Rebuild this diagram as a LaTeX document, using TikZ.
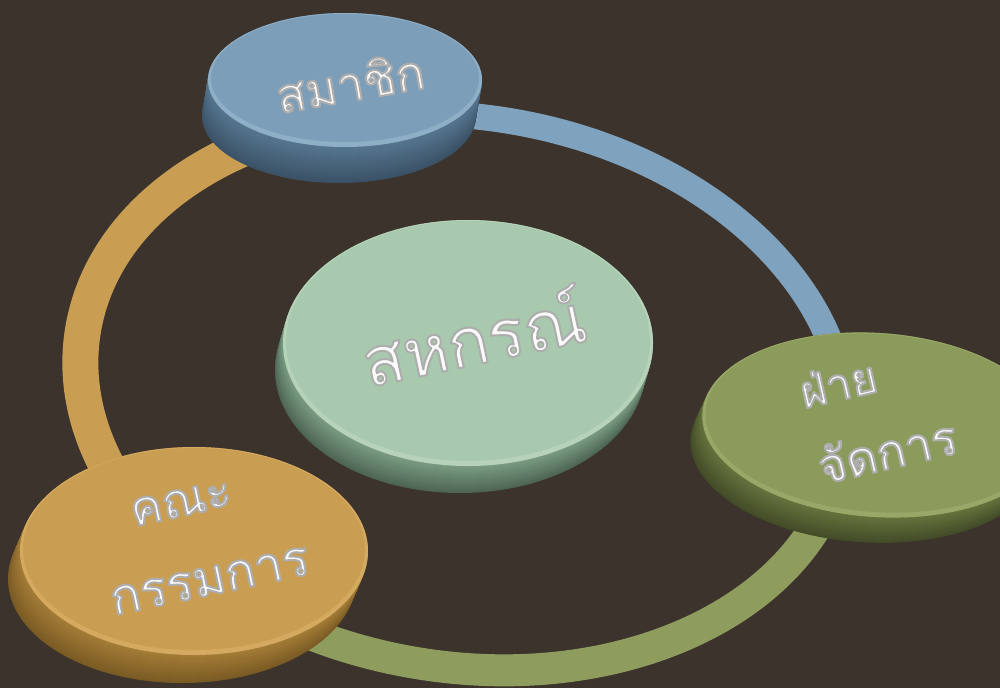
\documentclass[tikz,border=0pt]{standalone}
\usepackage{fontspec}
\newfontfamily\thaifont[Script=Thai]{Loma}
\definecolor{bg}{HTML}{3C342C}
\definecolor{ringO}{HTML}{C99E52}
\definecolor{ringB}{HTML}{7FA2BF}
\definecolor{ringG}{HTML}{8E9C5E}
\definecolor{btop}{HTML}{7D9EB8}\definecolor{bbevel}{HTML}{8FAFC6}\definecolor{bside}{HTML}{557690}\definecolor{bdark}{HTML}{3B5266}
\definecolor{mtop}{HTML}{A8C9AD}\definecolor{mbevel}{HTML}{B6D3BA}\definecolor{mside}{HTML}{7A9C82}\definecolor{mdark}{HTML}{4E6554}
\definecolor{otop}{HTML}{8B9B5C}\definecolor{obevel}{HTML}{99A868}\definecolor{oside}{HTML}{66733D}\definecolor{odark}{HTML}{434C28}
\definecolor{ytop}{HTML}{C99D52}\definecolor{ybevel}{HTML}{D4AA60}\definecolor{yside}{HTML}{A47C37}\definecolor{ydark}{HTML}{7A5B24}
\definecolor{txtw}{HTML}{FAFAFA}
\newcommand\emb[1]{\special{pdf:literal direct 2 Tr 2.0 w 1 j 0.68 0.68 0.68 RG}#1\special{pdf:literal direct 0 Tr}}
\newcommand\ringring[2]{\draw[line width=#1, #2] (0,0) ellipse[x radius=385, y radius=275];}
\newcommand\disc[9]{%
  \begin{scope}[shift={(#1,#2)}, rotate=#5]
    \foreach \j in {0,...,#6}{%
      \pgfmathsetmacro\kk{#6-\j}%
      \pgfmathtruncatemacro\pc{100*\kk/#6}%
      \fill[#8dark!\pc!#8side] ({#7*\kk/#6},\kk) ellipse[x radius=#3, y radius=#4];
    }
    \fill[#8bevel] (0,0) ellipse[x radius=#3, y radius=#4];
    \fill[#8top] (0,-2) ellipse[x radius=#3-3, y radius=#4-3];
    \coordinate (#9) at (0,0);
  \end{scope}}
\tikzset{lbl/.style={inner sep=0pt, text=txtw}}
\begin{document}
\begin{tikzpicture}[x=1pt,y=-1pt]
\useasboundingbox (0,0) rectangle (1000,688);
\fill[bg] (0,0) rectangle (1000,688);
\clip (0,0) rectangle (1000,688);
% ring
\coordinate (rc) at (463,392);
\begin{scope}
  \clip (rc) -- (-617,1044) -- (-2000,392) -- (-9,-856) -- cycle;
  \begin{scope}[shift={(rc)}, rotate=-9.1]\ringring{36pt}{ringO}\end{scope}
\end{scope}
\begin{scope}
  \clip (rc) -- (-9,-856) -- (2000,-2000) -- (2119,524) -- cycle;
  \begin{scope}[shift={(rc)}, rotate=-9.1]\ringring{26pt}{ringB}\end{scope}
\end{scope}
\begin{scope}
  \clip (rc) -- (2119,524) -- (2000,2000) -- (463,2000) -- (-617,1044) -- cycle;
  \begin{scope}[shift={(rc)}, rotate=-9.1]\ringring{32pt}{ringG}\end{scope}
\end{scope}
% discs
\disc{345}{80}{137}{67}{0}{36}{-6}{b}{member}
\disc{877}{425}{175}{92}{-4}{26}{-10}{o}{dept}
\disc{468}{343}{185}{123}{0}{27}{-8}{m}{coop}
\disc{194}{551}{174}{104}{0}{28}{-12}{y}{comm}
% labels
\node[lbl, rotate=10, font=\thaifont\fontsize{48}{54}\selectfont] (tmember) at (350,82) {\emb{สมาชิก}};
\node[lbl, rotate=12, font=\thaifont\fontsize{68}{74}\selectfont] (tcoop) at (473,335) {\emb{สหกรณ์}};
\node[lbl, rotate=13, font=\thaifont\fontsize{45}{50}\selectfont] (tdeptA) at (838,383) {\emb{ฝ่าย}};
\node[lbl, rotate=13, font=\thaifont\fontsize{48}{54}\selectfont] (tdeptB) at (887,450) {\emb{จัดการ}};
\node[lbl, rotate=12, font=\thaifont\fontsize{48}{54}\selectfont] (tcommA) at (181,503) {\emb{คณะ}};
\node[lbl, rotate=12, font=\thaifont\fontsize{50}{56}\selectfont] (tcommB) at (210,581) {\emb{กรรมการ}};
\end{tikzpicture}
\end{document}
